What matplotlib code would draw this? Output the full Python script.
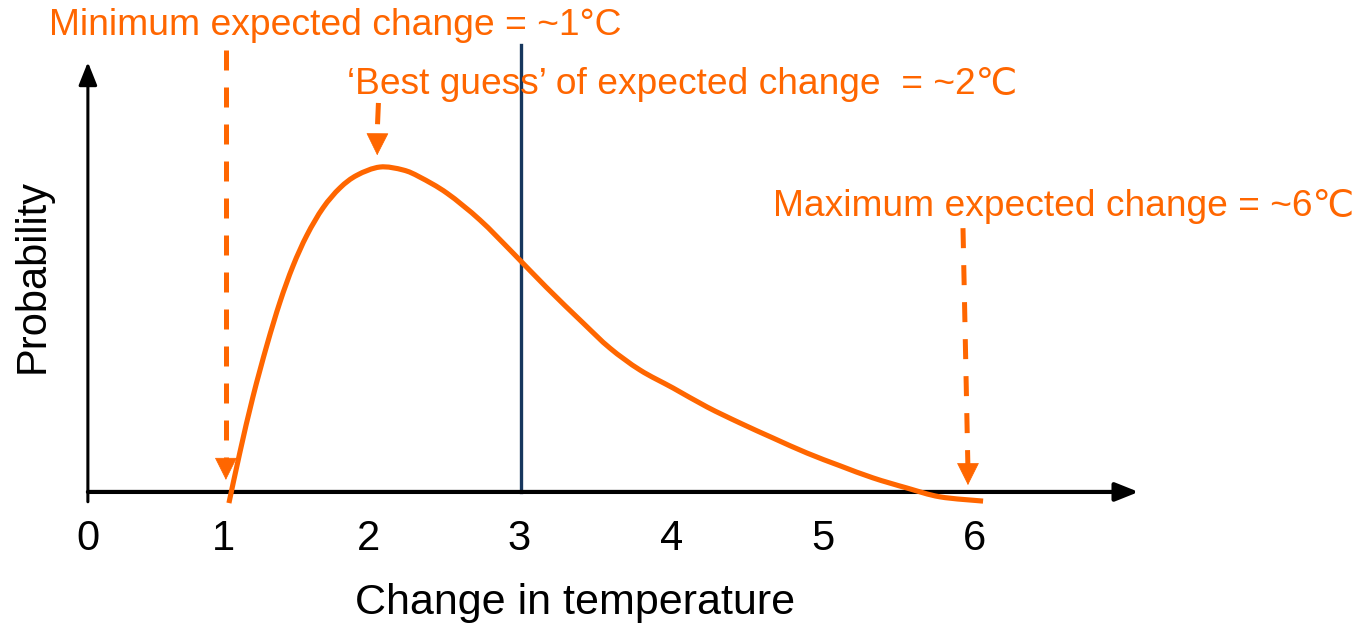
import matplotlib
matplotlib.use("Agg")
import matplotlib.pyplot as plt
import numpy as np
from matplotlib.path import Path
from matplotlib.patches import PathPatch

# ---- data ----
temperature = [1.066, 1.139, 1.225, 1.318, 1.404, 1.490, 1.583, 1.689, 1.801, 1.914,
               2.066, 2.219, 2.331, 2.510, 2.728, 2.947, 3.166, 3.411, 3.589, 3.788,
               4.007, 4.232, 4.450, 4.669, 4.894, 5.113, 5.331, 5.556, 5.775, 6.060]
probability = [-0.034, 0.122, 0.291, 0.450, 0.581, 0.691, 0.786, 0.869, 0.930, 0.969,
               0.994, 0.985, 0.963, 0.914, 0.832, 0.731, 0.627, 0.517, 0.440, 0.373,
               0.318, 0.260, 0.211, 0.165, 0.119, 0.080, 0.043, 0.012, -0.015, -0.028]
tick_labels = ["0", "1", "2", "3", "4", "5", "6"]
tick_values = [0.13, 1.03, 1.99, 2.99, 4.0, 5.0, 6.0]
best_line_x = 3.0
min_label = "Minimum expected change = ~1°C"
best_label = "‘Best guess’ of expected change  = ~2℃"
max_label = "Maximum expected change = ~6℃"

ORANGE = "#FF6600"
NAVY = "#17375E"

plt.rcParams["font.family"] = ["Liberation Sans", "DejaVu Sans"]

fig = plt.figure(figsize=(13.6, 6.24), dpi=100)
ax = fig.add_axes([0, 0, 1, 1])
ax.set_xlim(-0.450, 8.556)
ax.set_ylim(-0.404, 1.505)
ax.axis("off")

y0 = 0.132  # y-axis position
# axes with arrows
ax.annotate("", xy=(7.09, 0), xytext=(y0, 0),
            arrowprops=dict(arrowstyle="-|>,head_length=1.0,head_width=0.4",
                            color="black", lw=3, shrinkA=0, shrinkB=0, mutation_scale=14))
ax.annotate("", xy=(y0, 1.315), xytext=(y0, -0.03),
            arrowprops=dict(arrowstyle="-|>,head_length=1.0,head_width=0.4",
                            color="black", lw=2.2, shrinkA=0, shrinkB=0, mutation_scale=14))

# vertical line
ax.plot([best_line_x, best_line_x], [0, 1.367], color=NAVY, lw=2.4, zorder=2)

# smooth curve through the read points (Catmull-Rom rendered as Bezier)
P = np.column_stack([temperature, probability])
verts = [P[0]]
codes = [Path.MOVETO]
n = len(P)
for i in range(n - 1):
    p0 = P[i - 1] if i > 0 else P[i]
    p1, p2 = P[i], P[i + 1]
    p3 = P[i + 2] if i + 2 < n else P[i + 1]
    verts += [p1 + (p2 - p0) / 6, p2 - (p3 - p1) / 6, p2]
    codes += [Path.CURVE4] * 3
ax.add_patch(PathPatch(Path(verts, codes), facecolor="none", edgecolor=ORANGE,
                       lw=3.7, capstyle="butt", zorder=3))

# dashed arrows
def dashed_arrow(x1, y1, x2, y2):
    head = 0.045
    ax.plot([x1, x2], [y1, y2 + head], color=ORANGE, lw=3.6, ls=(0, (4, 3.4)),
            dash_capstyle="butt", zorder=3)
    ax.annotate("", xy=(x2, y2), xytext=(x2, y2 + head + 0.005),
                arrowprops=dict(arrowstyle="-|>,head_length=1.0,head_width=0.5",
                                color=ORANGE, lw=0.5, shrinkA=0, shrinkB=0,
                                mutation_scale=15))

dashed_arrow(1.046, 1.352, 1.046, 0.037)
dashed_arrow(5.927, 0.807, 5.96, 0.021)
ax.plot([2.056, 2.050], [1.19, 1.125], color=ORANGE, lw=3.6, solid_capstyle="butt")
ax.annotate("", xy=(2.048, 1.03), xytext=(2.049, 1.08),
            arrowprops=dict(arrowstyle="-|>,head_length=1.0,head_width=0.5",
                            color=ORANGE, lw=0.5, shrinkA=0, shrinkB=0, mutation_scale=15))

# tick labels
for v, lab in zip(tick_values, tick_labels):
    ax.text(v, -0.145, lab, ha="center", va="center", fontsize=30, color="black")

ax.text(3.36, -0.34, "Change in temperature", ha="center", va="center",
        fontsize=31, color="black")
ax.text(-0.232, 0.66, "Probability", ha="center", va="center", rotation=90,
        fontsize=30, color="black")

ax.text(1.768, 1.428, min_label, ha="center", va="center", fontsize=26.8, color=ORANGE)
ax.text(4.066, 1.245, best_label, ha="center", va="center", fontsize=26.7, color=ORANGE)
ax.text(6.596, 0.872, max_label, ha="center", va="center", fontsize=26.7, color=ORANGE)

fig.savefig("out.png", dpi=100)
